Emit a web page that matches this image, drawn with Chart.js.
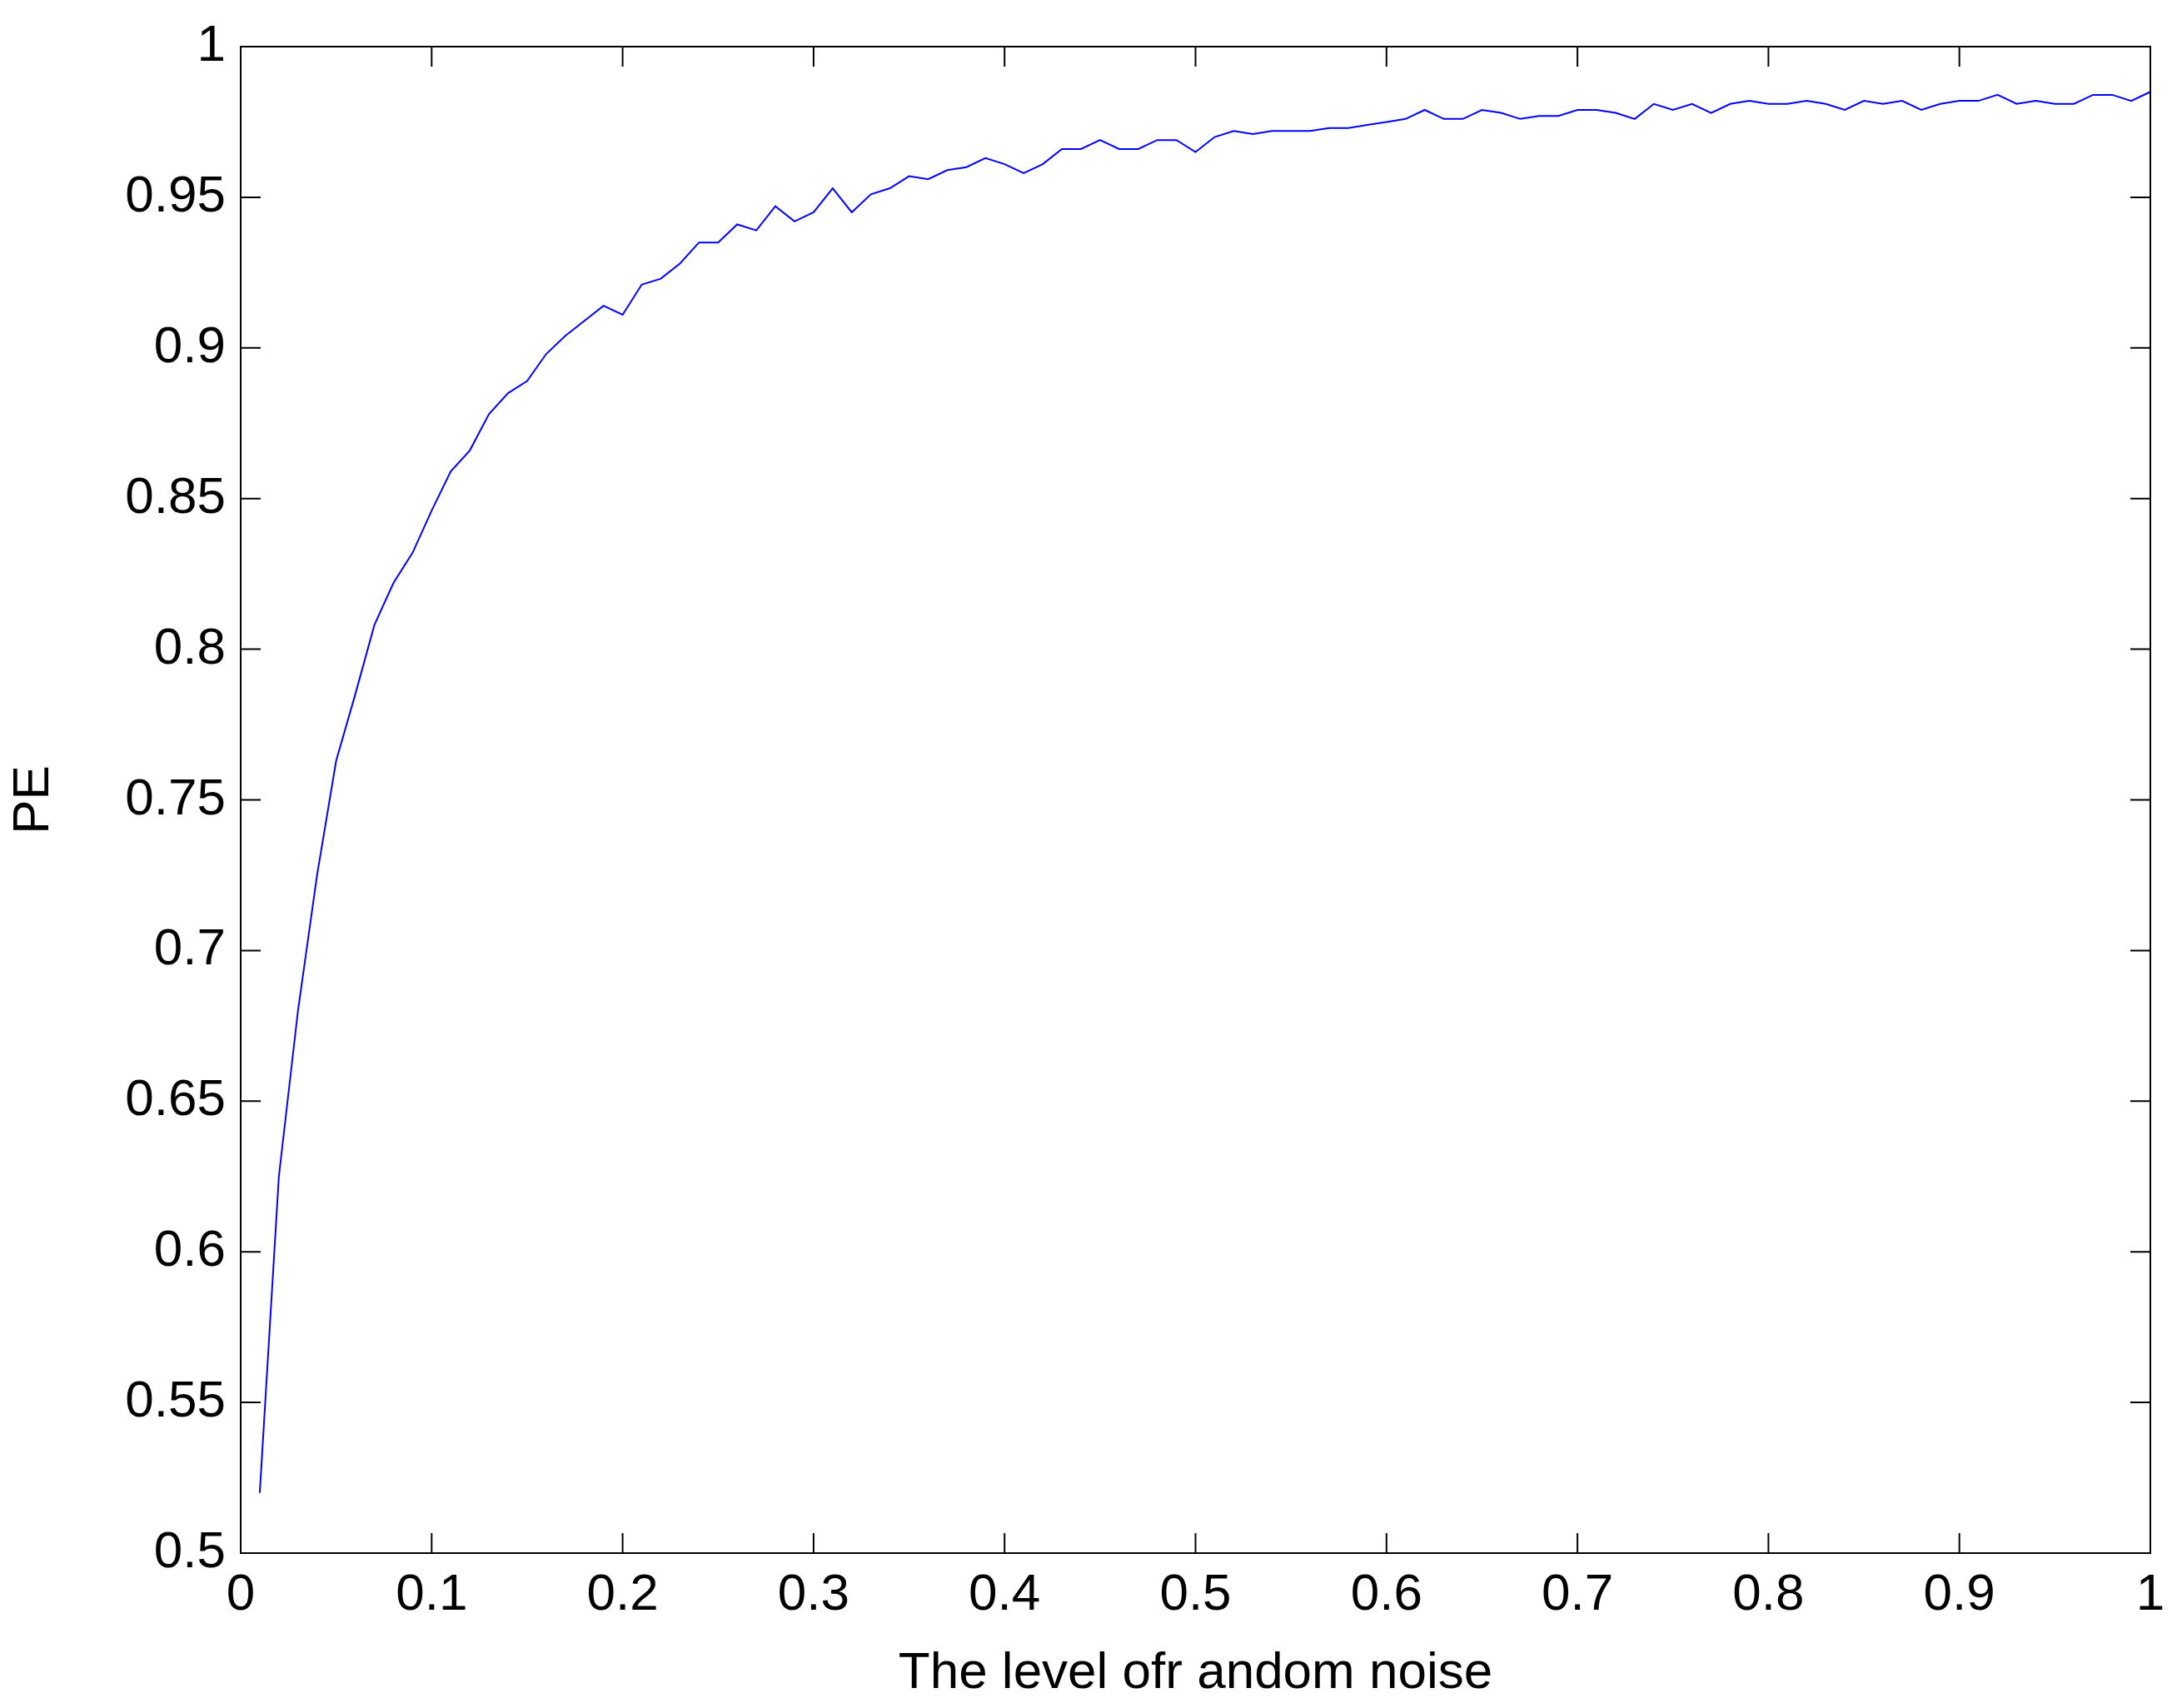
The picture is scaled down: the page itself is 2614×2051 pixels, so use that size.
<!DOCTYPE html>
<html>
<head>
<meta charset="utf-8">
<script src="https://cdn.jsdelivr.net/npm/chart.js@4/dist/chart.umd.min.js"></script>
<style>
  body { margin: 0; background: #fff; }
  #wrap { width: 2614px; height: 2051px; }
</style>
</head>
<body>
<div id="wrap"><canvas id="myChart" width="2614" height="2051"></canvas></div>
<script>
// noise levels 0.01 .. 1.00
const noiseLevels = [];
for (let i = 1; i <= 100; i++) noiseLevels.push(i / 100);

// PE values
const peValues = [
  0.520, 0.625, 0.680, 0.725, 0.763, 0.785, 0.808, 0.822, 0.832, 0.846,
  0.859, 0.866, 0.878, 0.885, 0.889, 0.898, 0.904, 0.909, 0.914, 0.911,
  0.921, 0.923, 0.928, 0.935, 0.935, 0.941, 0.939, 0.947, 0.942, 0.945,
  0.953, 0.945, 0.951, 0.953, 0.957, 0.956, 0.959, 0.960, 0.963, 0.961,
  0.958, 0.961, 0.966, 0.966, 0.969, 0.966, 0.966, 0.969, 0.969, 0.965,
  0.970, 0.972, 0.971, 0.972, 0.972, 0.972, 0.973, 0.973, 0.974, 0.975,
  0.976, 0.979, 0.976, 0.976, 0.979, 0.978, 0.976, 0.977, 0.977, 0.979,
  0.979, 0.978, 0.976, 0.981, 0.979, 0.981, 0.978, 0.981, 0.982, 0.981,
  0.981, 0.982, 0.981, 0.979, 0.982, 0.981, 0.982, 0.979, 0.981, 0.982,
  0.982, 0.984, 0.981, 0.982, 0.981, 0.981, 0.984, 0.984, 0.982, 0.985
];

const xTicks = [0, 0.1, 0.2, 0.3, 0.4, 0.5, 0.6, 0.7, 0.8, 0.9, 1];
const yTicks = [0.5, 0.55, 0.6, 0.65, 0.7, 0.75, 0.8, 0.85, 0.9, 0.95, 1];

const fontFamily = '"Liberation Sans", Arial, sans-serif';

// MATLAB style box with inward ticks on all four sides
const boxPlugin = {
  id: 'box',
  afterDraw(chart) {
    const ctx = chart.ctx;
    const a = chart.chartArea;
    const xs = chart.scales.x, ys = chart.scales.y;
    const len = 24;
    ctx.save();
    ctx.strokeStyle = '#000';
    ctx.lineWidth = 2;
    ctx.strokeRect(a.left, a.top, a.right - a.left, a.bottom - a.top);
    ctx.beginPath();
    xTicks.forEach(v => {
      const px = xs.getPixelForValue(v);
      ctx.moveTo(px, a.bottom); ctx.lineTo(px, a.bottom - len);
      ctx.moveTo(px, a.top); ctx.lineTo(px, a.top + len);
    });
    yTicks.forEach(v => {
      const py = ys.getPixelForValue(v);
      ctx.moveTo(a.left, py); ctx.lineTo(a.left + len, py);
      ctx.moveTo(a.right, py); ctx.lineTo(a.right - len, py);
    });
    ctx.stroke();
    ctx.restore();
  }
};

const data = noiseLevels.map((x, i) => ({ x: x, y: peValues[i] }));

new Chart(document.getElementById('myChart'), {
  type: 'line',
  data: {
    datasets: [{
      data: data,
      borderColor: 'rgb(0, 0, 255)',
      borderWidth: 2,
      pointRadius: 0,
      tension: 0,
      fill: false
    }]
  },
  options: {
    responsive: false,
    devicePixelRatio: 1,
    animation: false,
    layout: { padding: { top: 56, right: 32, left: 0, bottom: 0 } },
    plugins: { legend: { display: false }, tooltip: { enabled: false } },
    scales: {
      x: {
        type: 'linear',
        min: 0, max: 1,
        afterBuildTicks: s => { s.ticks = xTicks.map(v => ({ value: v })); },
        afterFit: s => { s.height = 2051 - 1865; },
        grid: { display: false, drawTicks: false },
        border: { display: false },
        ticks: {
          color: '#000',
          padding: 14,
          maxRotation: 0,
          font: { family: fontFamily, size: 62 },
          callback: v => String(Number(v.toFixed(2)))
        },
        title: {
          display: true,
          text: 'The level ofr andom noise',
          color: '#000',
          padding: { top: 0 },
          font: { family: fontFamily, size: 62 }
        }
      },
      y: {
        min: 0.5, max: 1,
        afterBuildTicks: s => { s.ticks = yTicks.map(v => ({ value: v })); },
        afterFit: s => { s.width = 289; },
        grid: { display: false, drawTicks: false },
        border: { display: false },
        ticks: {
          color: '#000',
          padding: 18,
          font: { family: fontFamily, size: 62 },
          callback: v => String(Number(v.toFixed(2)))
        },
        title: {
          display: true,
          text: 'PE',
          color: '#000',
          padding: { bottom: 0 },
          font: { family: fontFamily, size: 62 }
        }
      }
    }
  },
  plugins: [boxPlugin]
});
</script>
</body>
</html>
